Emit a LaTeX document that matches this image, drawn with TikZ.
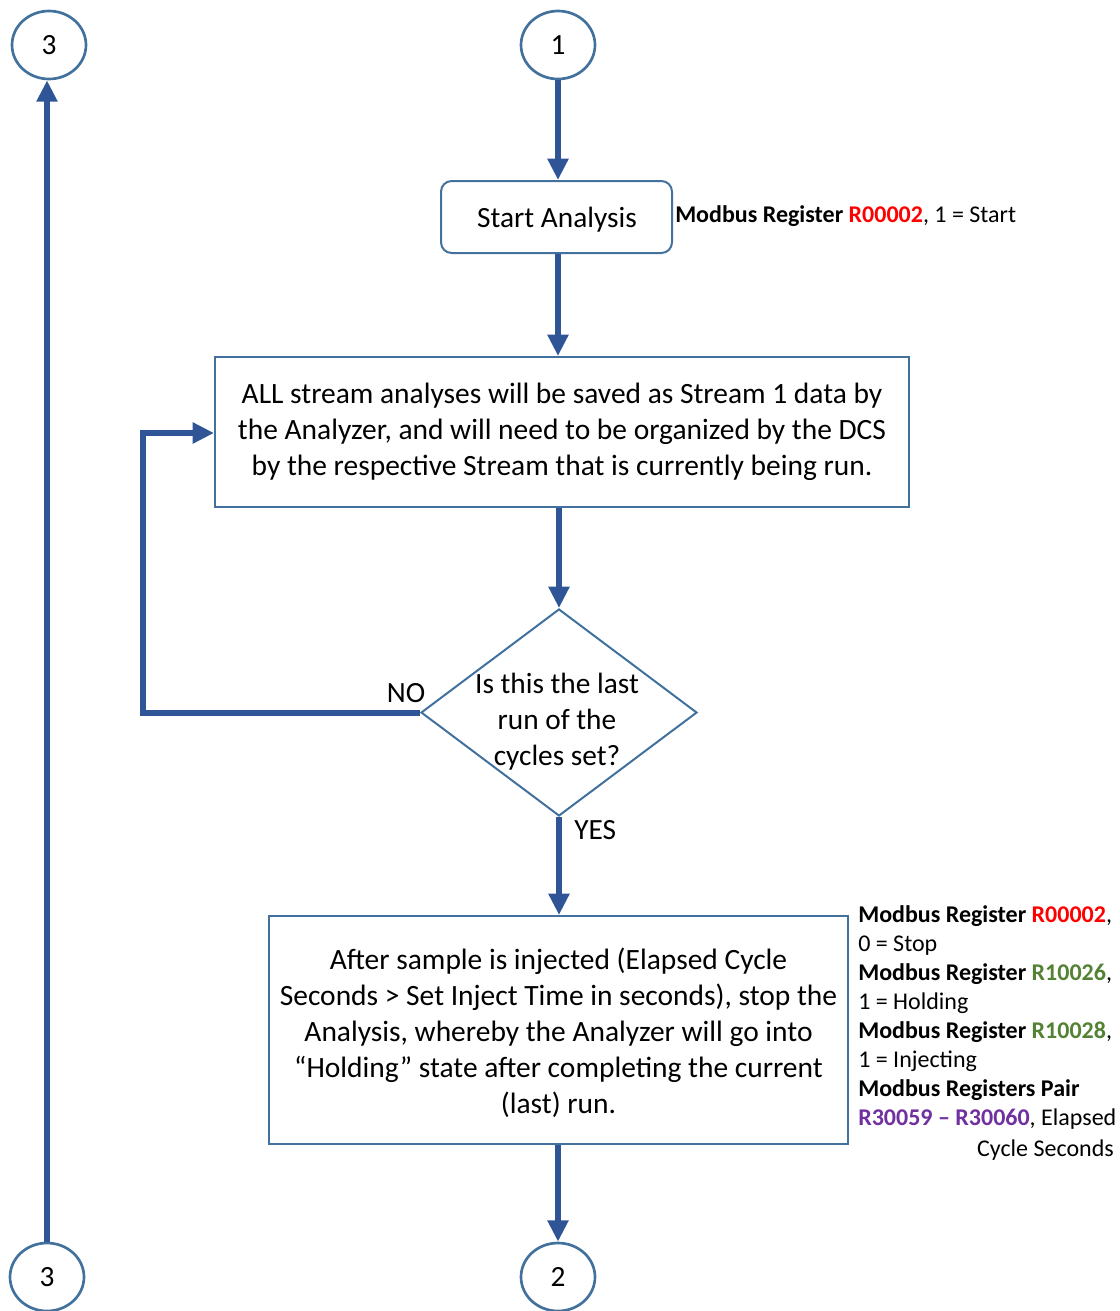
\documentclass[tikz,border=0pt]{standalone}
\usepackage{fontspec}
\setmainfont{Carlito}
\usetikzlibrary{arrows.meta,shapes.geometric}
\definecolor{arrowblue}{HTML}{2F5597}
\definecolor{edgeblue}{HTML}{41719C}
\definecolor{regred}{HTML}{FF0000}
\definecolor{reggreen}{HTML}{548235}
\definecolor{regpurple}{HTML}{7030A0}
\tikzset{
  conn/.style={draw=arrowblue, line width=4.5pt, -{Triangle[width=15pt,length=16pt]}},
  loopline/.style={draw=arrowblue, line width=4.5pt},
  boxstyle/.style={draw=edgeblue, line width=1.5pt, inner sep=0pt, align=center, font=\fontsize{22.1}{27}\selectfont},
  circ/.style={draw=edgeblue, line width=2pt, ellipse, minimum width=55.5pt, minimum height=51pt, inner sep=0pt, font=\fontsize{22}{27}\selectfont},
  note/.style={inner sep=0pt, align=left, font=\fontsize{18}{21.75}\selectfont},
  lbl/.style={inner sep=0pt, font=\fontsize{22}{27}\selectfont}
}
\begin{document}
\begin{tikzpicture}[x=0.75pt,y=-0.75pt]
\useasboundingbox (0,0) rectangle (1120,1311);
% circles
\node[circ] (c3top) at (49,45) {3};
\node[circ] (c1) at (558,45) {1};
\node[circ] (c3bot) at (47,1277) {3};
\node[circ] (c2) at (558,1277) {2};
% start
\node[boxstyle, rounded corners=8pt, minimum width=173.25pt, minimum height=54pt] (start) at (556.5,217) {};
\node[lbl] (starttext) at (557,220) {Start Analysis};
% main box
\node[boxstyle, minimum width=520.5pt, minimum height=112.5pt] (main) at (562,432) {ALL stream analyses will be saved as Stream 1 data by\\the Analyzer, and will need to be organized by the DCS\\by the respective Stream that is currently being run.};
% diamond
\node[boxstyle, diamond, aspect=1.333, minimum width=207pt, minimum height=155.25pt] (dec) at (559,712.5) {};
\node[lbl, align=center] (dectext) at (557,722) {Is this the last\\run of the\\cycles set?};
% bottom box
\node[boxstyle, minimum width=434.25pt, minimum height=171pt] (stop) at (558.5,1030) {};
\node[boxstyle, draw=none] (stoptext) at (558.5,1033) {After sample is injected (Elapsed Cycle\\Seconds > Set Inject Time in seconds), stop the\\Analysis, whereby the Analyzer will go into\\“Holding” state after completing the current\\(last) run.};
% connectors
\draw[conn] (c1) -- (c1 |- start.north);
\draw[conn] (start.south -| c1) -- (main.north -| c1);
\draw[conn] (main.south -| dec.north) -- (dec.north);
\draw[conn] (dec.south) -- (stop.north -| dec.south);
\draw[conn] (stop.south -| c2) -- (c2);
\coordinate (nobot) at (143,712);
\coordinate (notop) at (143,433);
\draw[loopline] (dec.west) -- (dec.west -| nobot) -- (notop);
\draw[conn] ([xshift=-2.25pt]notop) -- (notop -| main.west);
\draw[conn] (c3bot) -- (c3bot |- c3top.south);
% labels
\node[lbl, anchor=south] (nolbl) at (406,703) {NO};
\node[lbl, anchor=west] (yeslbl) at (574,830) {YES};
% notes
\node[note, anchor=west] (note1) at (675,216) {\textbf{Modbus Register \textcolor{regred}{R00002}}, 1 = Start};
\node[note, anchor=north west] (note2) at (858,905) {\textbf{Modbus Register \textcolor{regred}{R00002}},\\0 = Stop\\\textbf{Modbus Register \textcolor{reggreen}{R10026}},\\1 = Holding\\\textbf{Modbus Register \textcolor{reggreen}{R10028}},\\1 = Injecting\\\textbf{Modbus Registers Pair}\\\textbf{\textcolor{regpurple}{R30059 – R30060}}, Elapsed};
\node[note, anchor=east] (note3) at (1114,1150) {Cycle Seconds};
\end{tikzpicture}
\end{document}
